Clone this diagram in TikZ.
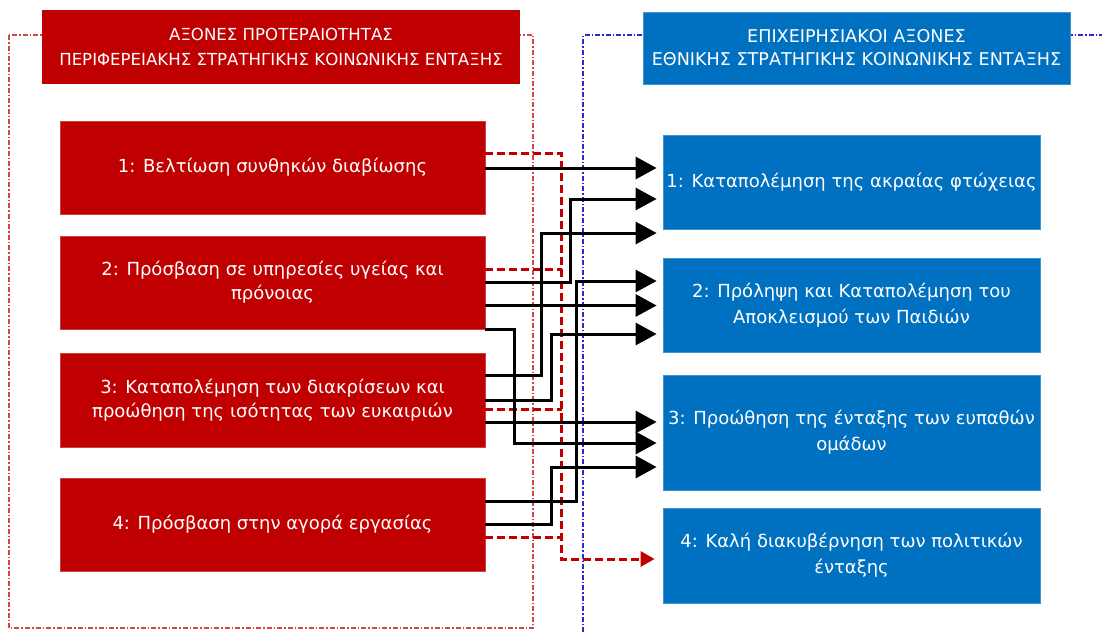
\documentclass[tikz,border=0pt]{standalone}
\usepackage{fontspec}
\setmainfont{DejaVu Sans}
\usetikzlibrary{arrows.meta,calc}
\definecolor{boxred}{HTML}{C00000}
\definecolor{boxblue}{HTML}{0070C0}
\definecolor{framered}{HTML}{D04848}
\definecolor{frameblue}{HTML}{2A2ACC}
\begin{document}
\begin{tikzpicture}[x=1pt,y=-1pt,
  redbox/.style={fill=boxred, draw=boxred!75!white, line width=0.8pt, text=white,
    minimum width=425pt, minimum height=93pt, align=center, inner sep=0pt,
    font=\fontsize{18}{24}\selectfont},
  bluebox/.style={fill=boxblue, draw=boxblue!75!white, line width=0.8pt, text=white,
    minimum width=377pt, minimum height=94pt, align=center, inner sep=0pt,
    font=\fontsize{18}{26}\selectfont},
  conn/.style={line width=3pt, -{Triangle[length=21pt,width=22pt]}},
  rdash/.style={draw=boxred, line width=3pt, dash pattern=on 8pt off 4pt},
  rdasharrow/.style={rdash, -{Triangle[length=14pt,width=15pt]}},
  lframe/.style={draw=framered, line width=1.4pt, dash pattern=on 5pt off 2pt on 1.5pt off 2pt},
  bframe/.style={draw=frameblue, line width=1.4pt, dash pattern=on 5pt off 2pt on 1.5pt off 2pt},
]
\useasboundingbox (0,0) rectangle (1102,632);
\fill[white] (0,0) rectangle (1102,632);
% frames
\draw[lframe] (9,35) rectangle (533,628);
\draw[bframe] (583,632) -- (583,35) -- (1102,35);
% headers
\node[fill=boxred, text=white, minimum width=478pt, minimum height=74pt, inner sep=0pt,
  align=center, font=\fontsize{16.6}{25}\selectfont] (LH) at (281,47)
  {ΑΞΟΝΕΣ ΠΡΟΤΕΡΑΙΟΤΗΤΑΣ\\ΠΕΡΙΦΕΡΕΙΑΚΗΣ ΣΤΡΑΤΗΓΙΚΗΣ ΚΟΙΝΩΝΙΚΗΣ ΕΝΤΑΞΗΣ};
\node[fill=boxblue, draw=boxblue!75!white, line width=0.8pt, text=white, minimum width=427pt, minimum height=72pt, inner sep=0pt,
  align=center, font=\fontsize{17.6}{23}\selectfont] (RH) at (856.5,48)
  {ΕΠΙΧΕΙΡΗΣΙΑΚΟΙ ΑΞΟΝΕΣ\\ΕΘΝΙΚΗΣ ΣΤΡΑΤΗΓΙΚΗΣ ΚΟΙΝΩΝΙΚΗΣ ΕΝΤΑΞΗΣ};
% left boxes
\node[redbox] (L1) at (272.5,167.5) {1: Βελτίωση συνθηκών διαβίωσης};
\node[redbox] (L2) at (272.5,282.5) {2: Πρόσβαση σε υπηρεσίες υγείας και\\πρόνοιας};
\node[redbox, minimum height=94pt] (L3) at (272.5,400) {3: Καταπολέμηση των διακρίσεων και\\προώθηση της ισότητας των ευκαιριών};
\node[redbox] (L4) at (272.5,524.5) {4: Πρόσβαση στην αγορά εργασίας};
% right boxes
\node[bluebox] (R1) at (851.5,182) {1: Καταπολέμηση της ακραίας φτώχειας};
\node[bluebox] (R2) at (851.5,305) {2: Πρόληψη και Καταπολέμηση του\\Αποκλεισμού των Παιδιών};
\node[bluebox, minimum height=115pt] (R3) at (851.5,432.5) {3: Προώθηση της ένταξης των ευπαθών\\ομάδων};
\node[bluebox, minimum height=95pt] (R4) at (851.5,555.5) {4: Καλή διακυβέρνηση των πολιτικών\\ένταξης};
% red dashed connectors
\draw[rdash] ($(L2.east)+(0,-13.5)$) -- ++(77,0);
\draw[rdash] ($(L3.east)+(0,9)$) -- ++(77,0);
\draw[rdash] ($(L4.east)+(0,12.5)$) -- ++(77,0);
\draw[rdasharrow] ($(L1.east)+(0,-14.5)$) -| ($(R4.west)+(-101,3.5)$) -- ($(R4.west)+(-8,3.5)$);
% black connectors
\draw[conn] ($(L1.east)+(0,0.5)$) -- ($(R1.west)+(-6,-14)$);
\draw[conn] ($(L2.east)+(0,-0.5)$) -| ($(R1.west)+(-92,17)$) -- ($(R1.west)+(-6,17)$);
\draw[conn] ($(L3.east)+(0,-25)$) -| ($(R1.west)+(-121,51)$) -- ($(R1.west)+(-6,51)$);
\draw[conn] ($(L4.east)+(0,-23.5)$) -| ($(R2.west)+(-86,-24)$) -- ($(R2.west)+(-6,-24)$);
\draw[conn] ($(L2.east)+(0,23)$) -- ($(R2.west)+(-6,0.5)$);
\draw[conn] (L3.east) -| ($(R2.west)+(-111,29)$) -- ($(R2.west)+(-6,29)$);
\draw[conn] ($(L3.east)+(0,22)$) -- ($(R3.west)+(-6,-10.5)$);
\draw[conn] ($(L2.east)+(0,46.5)$) -| ($(R3.west)+(-148,10.5)$) -- ($(R3.west)+(-6,10.5)$);
\draw[conn] ($(L4.east)+(0,-0.5)$) -| ($(R3.west)+(-111,34.5)$) -- ($(R3.west)+(-6,34.5)$);
\end{tikzpicture}
\end{document}
